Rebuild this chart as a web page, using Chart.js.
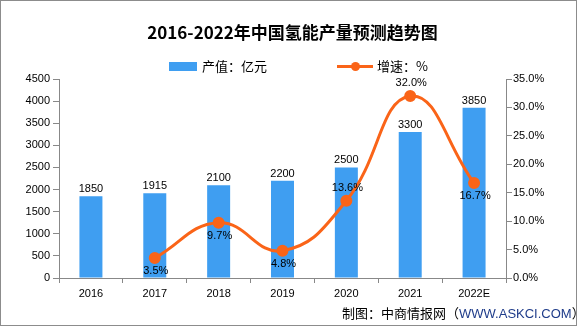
<!DOCTYPE html>
<html><head><meta charset="utf-8">
<script src="https://cdn.jsdelivr.net/npm/chart.js@4/dist/chart.umd.min.js"></script>
<style>
body{margin:0;background:#fff;}
#wrap{position:relative;width:585px;height:327px;overflow:hidden;background:#fff;font-family:"Noto Sans CJK SC","Noto Sans",sans-serif;}
#frame{position:absolute;left:0;top:0;width:577px;height:326px;border:1px solid #8c8c8c;box-sizing:border-box;pointer-events:none;}
#title{position:absolute;left:0;top:21px;width:585px;text-align:center;font-size:17px;font-weight:bold;line-height:22px;color:#000;}
.lg{position:absolute;font-size:13px;line-height:16px;top:58px;color:#000;}
#lgBox{position:absolute;left:169px;top:62px;width:28px;height:9px;background:#3f9ef1;}
#lgLine{position:absolute;left:337px;top:65px;width:36px;height:3px;background:#fa6418;}
#lgDot{position:absolute;left:351px;top:62px;width:9px;height:9px;border-radius:50%;background:#fa6418;}
#footer{position:absolute;left:342px;top:304px;font-size:13px;line-height:17px;color:#000;white-space:nowrap;}
#footer span{color:#1f3c8a;font-family:"Liberation Sans",Arial,sans-serif;}
canvas{position:absolute;left:0;top:0;}
</style></head>
<body>
<div id="wrap">
  <canvas id="c" width="585" height="327"></canvas>
  <div id="title">2016-2022年中国氢能产量预测趋势图</div>
  <div id="lgBox"></div><div class="lg" style="left:202px">产值：亿元</div>
  <div id="lgLine"></div><div id="lgDot"></div><div class="lg" style="left:377px">增速：%</div>
  <div id="footer">制图：中商情报网（<span>WWW.ASKCI.COM</span>）</div>
  <div id="frame"></div>
</div>
<script>
const categories = ['2016','2017','2018','2019','2020','2021','2022E'];
const outputValues = [1850, 1915, 2100, 2200, 2500, 3300, 3850];
const growthRates = [null, 3.5, 9.7, 4.8, 13.6, 32.0, 16.7];
const growthLabelSide = ['below','below','below','below','above','above','below'];

const BAR_COLOR = '#3f9ef1';
const LINE_COLOR = '#fa6418';
const AXIS_COLOR = '#888888';
const NUM_FONT = {family: '"Liberation Sans", Arial, sans-serif', size: 11};

const labelPlugin = {
  id: 'valueLabels',
  afterDatasetsDraw(chart) {
    const ctx = chart.ctx;
    ctx.save();
    ctx.font = '11px "Liberation Sans", Arial, sans-serif';
    ctx.fillStyle = '#000';
    ctx.textAlign = 'center';
    const barMeta = chart.getDatasetMeta(1);
    barMeta.data.forEach((el, i) => {
      ctx.textBaseline = 'alphabetic';
      ctx.fillText(String(outputValues[i]), el.x, el.y - 4);
    });
    const lineMeta = chart.getDatasetMeta(0);
    lineMeta.data.forEach((el, i) => {
      const v = growthRates[i];
      if (v === null || v === undefined) return;
      ctx.textBaseline = 'middle';
      const dy = growthLabelSide[i] === 'above' ? -13 : 13;
      ctx.fillText(v.toFixed(1) + '%', el.x + 1, el.y + dy);
    });
    ctx.restore();
  }
};

new Chart(document.getElementById('c'), {
  type: 'bar',
  data: {
    labels: categories,
    datasets: [
      {
        type: 'line',
        label: '增速：%',
        data: growthRates,
        yAxisID: 'y1',
        borderColor: LINE_COLOR,
        backgroundColor: LINE_COLOR,
        borderWidth: 3,
        tension: 0.45,
        pointRadius: 4.5,
        pointBackgroundColor: LINE_COLOR,
        pointBorderColor: LINE_COLOR,
        order: 0
      },
      {
        type: 'bar',
        label: '产值：亿元',
        data: outputValues,
        yAxisID: 'y',
        backgroundColor: BAR_COLOR,
        barPercentage: 0.36,
        categoryPercentage: 1,
        order: 1
      }
    ]
  },
  options: {
    responsive: false,
    animation: false,
    layout: {padding: {top: 79, left: 0, right: 0, bottom: 0}},
    plugins: {legend: {display: false}, title: {display: false}, tooltip: {enabled: false}},
    scales: {
      x: {
        offset: true,
        grid: {display: true, drawOnChartArea: false, offset: true, tickLength: 5, color: AXIS_COLOR},
        border: {color: AXIS_COLOR},
        ticks: {font: NUM_FONT, color: '#000', padding: 4, maxRotation: 0},
        afterFit(s) { s.height = 49; }
      },
      y: {
        position: 'left',
        min: 0, max: 4500,
        grid: {display: true, drawOnChartArea: false, tickLength: 6, color: AXIS_COLOR},
        border: {color: AXIS_COLOR},
        ticks: {stepSize: 500, font: NUM_FONT, color: '#000', padding: 3, callback: v => String(v)},
        afterFit(s) { s.width = 59; }
      },
      y1: {
        position: 'right',
        min: 0, max: 35,
        grid: {display: true, drawOnChartArea: false, tickLength: 6, color: AXIS_COLOR},
        border: {color: AXIS_COLOR},
        ticks: {stepSize: 5, font: NUM_FONT, color: '#000', padding: 1, callback: v => Number(v).toFixed(1) + '%'},
        afterFit(s) { s.width = 79; }
      }
    }
  },
  plugins: [labelPlugin]
});
</script>
</body></html>
